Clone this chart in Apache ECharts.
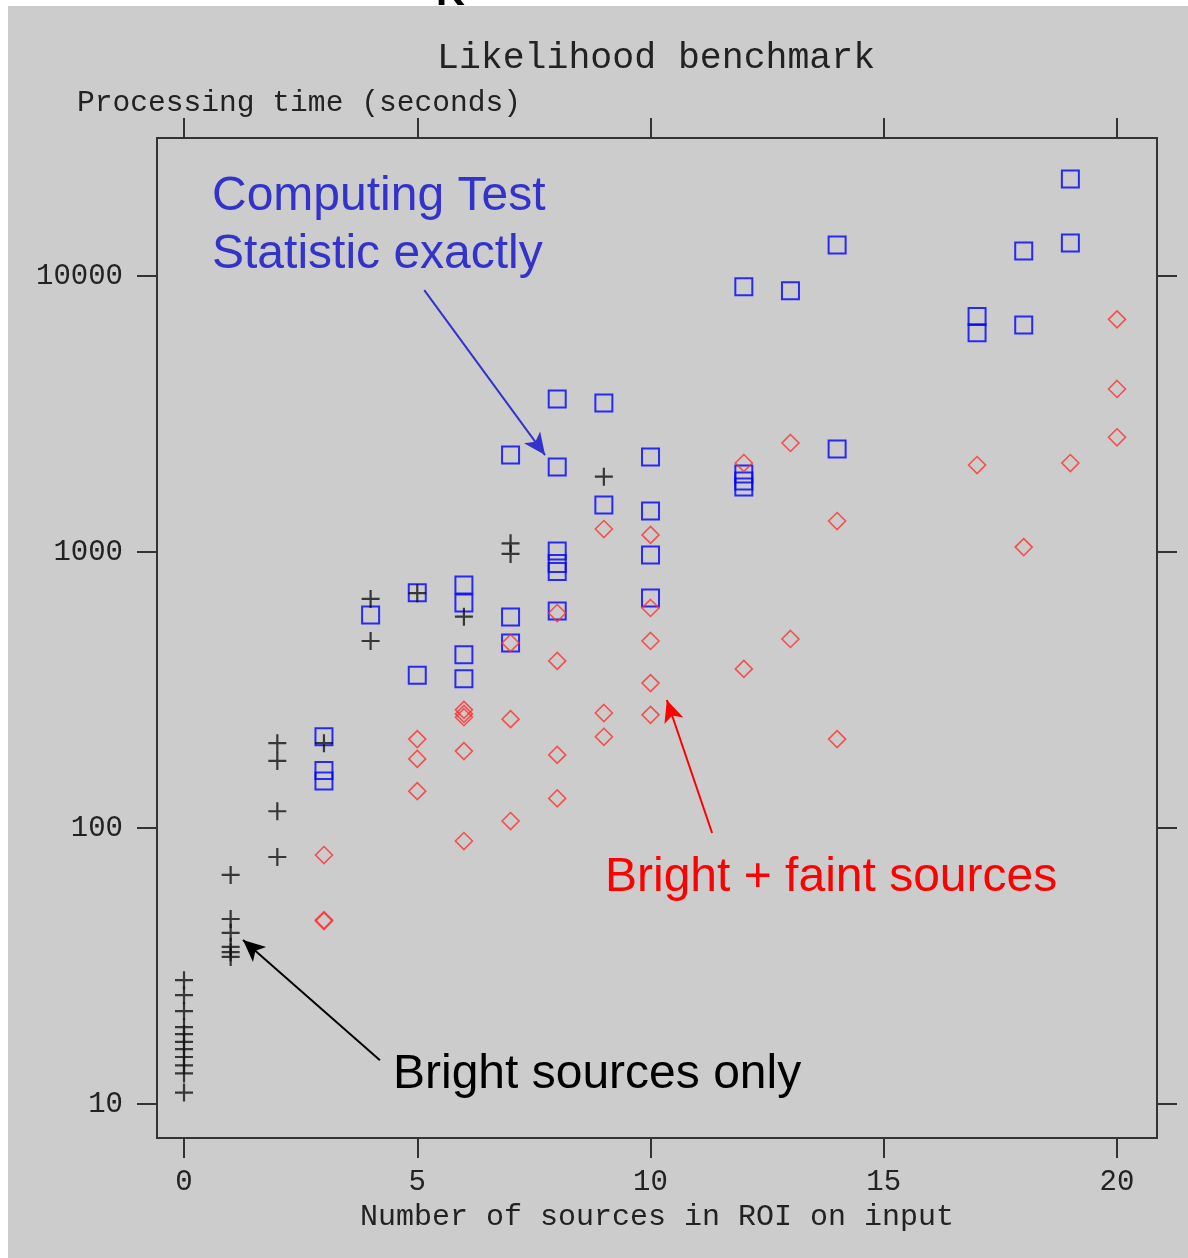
<!DOCTYPE html>
<html>
<head>
<meta charset="utf-8">
<script src="https://cdn.jsdelivr.net/npm/echarts@6/dist/echarts.min.js"></script>
<style>
html,body{margin:0;padding:0;background:#fff;}
#chart{width:1188px;height:1258px;}
</style>
</head>
<body>
<div id="chart"></div>
<script>
// ---- Data (x = number of sources in ROI, y = processing time in seconds) ----
const brightSourcesOnly = [
  [0, 28.1], [0, 24.8], [0, 21.7], [0, 19.0], [0, 17.9], [0, 16.8], [0, 15.8], [0, 14.8], [0, 13.8], [0, 12.9], [0, 11.0],
  [1, 67.6], [1, 46.8], [1, 41.7], [1, 37.1], [1, 35.5], [1, 34.1],
  [2, 203], [2, 175], [2, 115], [2, 78.5],
  [3, 203],
  [4, 676], [4, 476],
  [5, 709],
  [6, 583],
  [7, 1075], [7, 984],
  [9, 1875]
];
const exactTestStatistic = [
  [3, 214], [3, 161.6], [3, 148],
  [4, 591],
  [5, 712], [5, 358],
  [6, 759], [6, 654], [6, 424], [6, 347],
  [7, 2245], [7, 581], [7, 468],
  [8, 3583], [8, 2032], [8, 1009], [8, 909], [8, 850], [8, 611],
  [9, 3467], [9, 1480],
  [10, 2209], [10, 1408], [10, 975], [10, 681],
  [12, 9149], [12, 1918], [12, 1808], [12, 1720],
  [13, 8850],
  [14, 12950], [14, 2362],
  [17, 7126], [17, 6233],
  [18, 12320], [18, 6641],
  [19, 22460], [19, 13180]
];
const brightPlusFaint = [
  [3, 79.8], [3, 46.4], [3, 46.0],
  [5, 210], [5, 178], [5, 136],
  [6, 268], [6, 259], [6, 252], [6, 190], [6, 89.7],
  [7, 468], [7, 248], [7, 106],
  [8, 601], [8, 403], [8, 184], [8, 128],
  [9, 1211], [9, 261], [9, 214],
  [10, 1153], [10, 627], [10, 476], [10, 335], [10, 257],
  [12, 2101], [12, 377],
  [13, 2483], [13, 484],
  [14, 1295], [14, 210],
  [17, 2066],
  [18, 1042],
  [19, 2101],
  [20, 6966], [20, 3897], [20, 2604]
];
const xTicks = [0, 5, 10, 15, 20];
const yTicks = [10, 100, 1000, 10000];

// annotation arrows (data coordinates: tail -> head)
const arrowExact = [[5.15, 8890], [7.74, 2244]];
const arrowFaint = [[11.32, 95.9], [10.35, 291]];
const arrowBright = [[4.20, 14.4], [1.265, 39.3]];

const chart = echarts.init(document.getElementById('chart'), null, {renderer: 'canvas'});
const MONO = '"Liberation Mono", "DejaVu Sans Mono", monospace';
const SANS = '"Liberation Sans", Arial, sans-serif';
const X_MIN = -0.579, X_MAX = 20.857, Y_MIN = 7.53, Y_MAX = 31623;
const tickStyle = {show: true, inside: false, length: 20, lineStyle: {color: '#333', width: 2}};
const noLine = {show: false, onZero: false};

function arrow(coords, color) {
  return {
    silent: true,
    symbol: ['none', 'arrow'],
    symbolSize: [15, 22],
    label: {show: false},
    lineStyle: {color: color, width: 2, type: 'solid'},
    emphasis: {disabled: true},
    data: [[{coord: coords[0]}, {coord: coords[1]}]]
  };
}

const option = {
  animation: false,
  backgroundColor: '#ffffff',
  title: [
    {text: 'Likelihood benchmark', left: 437, top: 40, padding: 0,
     textStyle: {fontFamily: MONO, fontSize: 36.5, fontWeight: 'normal', color: '#222'}},
    {text: 'Processing time (seconds)', left: 77, top: 88, padding: 0,
     textStyle: {fontFamily: MONO, fontSize: 29.6, fontWeight: 'normal', color: '#222'}}
  ],
  graphic: [
    {type: 'text', z: -20, left: 436, top: -26,
     style: {text: 'K', font: 'bold 40px ' + SANS, fill: '#000'}},
    {type: 'rect', z: -10, shape: {x: 8, y: 6, width: 1180, height: 1252},
     style: {fill: '#cccccc'}},
    {type: 'text', z: 50, x: 212, y: 197,
     style: {text: 'Computing Test', font: '48px ' + SANS, fill: '#3333cc', verticalAlign: 'middle'}},
    {type: 'text', z: 50, x: 212, y: 255,
     style: {text: 'Statistic exactly', font: '48px ' + SANS, fill: '#3333cc', verticalAlign: 'middle'}},
    {type: 'text', z: 50, x: 605, y: 878,
     style: {text: 'Bright + faint sources', font: '48px ' + SANS, fill: '#ff0000', verticalAlign: 'middle'}},
    {type: 'text', z: 50, x: 393, y: 1075,
     style: {text: 'Bright sources only', font: '48px ' + SANS, fill: '#000000', verticalAlign: 'middle'}}
  ],
  grid: {
    left: 157, top: 138, width: 1000, height: 1000,
    show: true, borderColor: '#333', borderWidth: 2, backgroundColor: 'transparent',
    containLabel: false, outerBoundsMode: 'none'
  },
  xAxis: [
    {
      type: 'value', min: X_MIN, max: X_MAX, position: 'bottom',
      axisLine: noLine, splitLine: {show: false},
      axisTick: Object.assign({customValues: xTicks}, tickStyle),
      axisLabel: {customValues: xTicks, margin: 30, fontFamily: MONO, fontSize: 29, color: '#222'},
      name: 'Number of sources in ROI on input', nameLocation: 'middle', nameGap: 56,
      nameTextStyle: {fontFamily: MONO, fontSize: 30, color: '#222'}
    },
    {
      type: 'value', min: X_MIN, max: X_MAX, position: 'top',
      axisLine: noLine, splitLine: {show: false},
      axisTick: Object.assign({customValues: xTicks}, tickStyle),
      axisLabel: {show: false}
    }
  ],
  yAxis: [
    {
      type: 'log', logBase: 10, min: Y_MIN, max: Y_MAX, position: 'left',
      axisLine: noLine, splitLine: {show: false}, minorTick: {show: false},
      axisTick: Object.assign({customValues: yTicks}, tickStyle),
      axisLabel: {customValues: yTicks, margin: 34, fontFamily: MONO, fontSize: 29, color: '#222',
                  formatter: v => String(Math.round(v))}
    },
    {
      type: 'log', logBase: 10, min: Y_MIN, max: Y_MAX, position: 'right',
      axisLine: noLine, splitLine: {show: false}, minorTick: {show: false},
      axisTick: Object.assign({customValues: yTicks}, tickStyle),
      axisLabel: {show: false}
    }
  ],
  series: [
    {
      name: 'Computing Test Statistic exactly', type: 'scatter', xAxisIndex: 0, yAxisIndex: 0,
      data: exactTestStatistic, symbol: 'rect', symbolSize: 17, silent: true, z: 2,
      itemStyle: {color: 'rgba(0,0,0,0)', borderColor: '#0000ff', borderWidth: 2},
      markLine: arrow(arrowExact, '#3333cc')
    },
    {
      name: 'Bright + faint sources', type: 'scatter', xAxisIndex: 0, yAxisIndex: 0,
      data: brightPlusFaint, symbol: 'diamond', symbolSize: 17, silent: true, z: 3,
      itemStyle: {color: 'rgba(0,0,0,0)', borderColor: '#ff3030', borderWidth: 1.6},
      markLine: arrow(arrowFaint, '#ff0000')
    },
    {
      name: 'Bright sources only', type: 'scatter', xAxisIndex: 0, yAxisIndex: 0,
      data: brightSourcesOnly, symbol: 'path://M0,10 L20,10 M10,0 L10,20', symbolSize: 18, silent: true, z: 4,
      itemStyle: {color: 'rgba(0,0,0,0)', borderColor: '#111', borderWidth: 2.2},
      markLine: arrow(arrowBright, '#000000')
    }
  ]
};
chart.setOption(option);
</script>
</body>
</html>
